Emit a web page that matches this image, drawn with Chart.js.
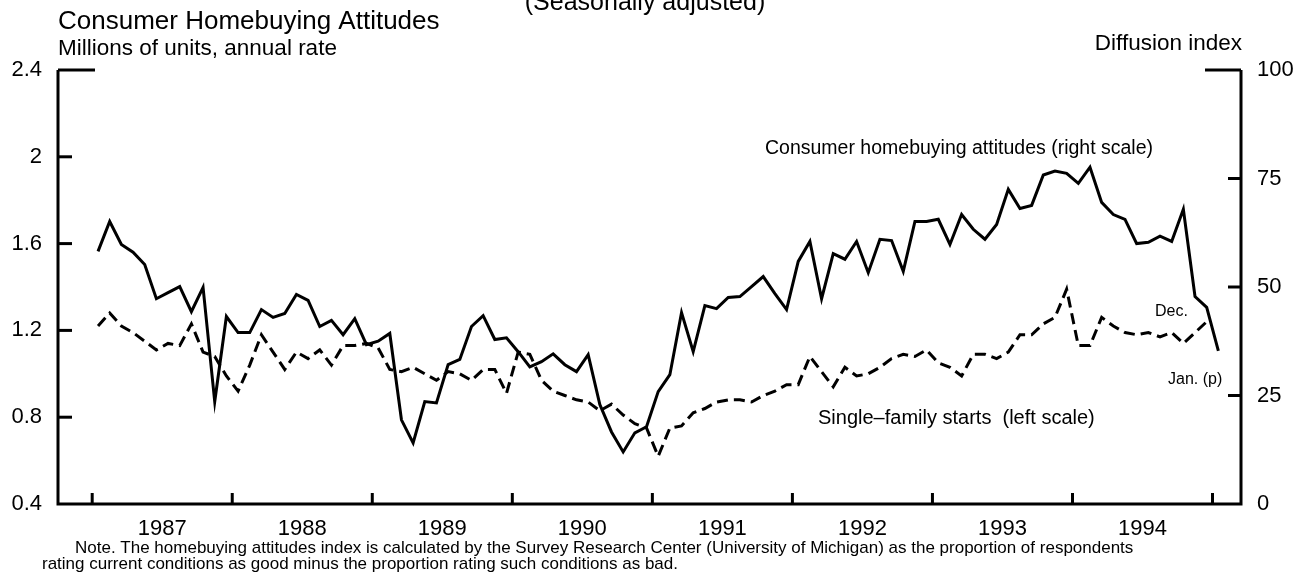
<!DOCTYPE html>
<html>
<head>
<meta charset="utf-8">
<script src="https://cdn.jsdelivr.net/npm/chart.js@4.4.1/dist/chart.umd.min.js"></script>
<style>
  html, body { margin: 0; padding: 0; background: #fff; }
  #wrap { position: relative; width: 1311px; height: 579px; overflow: hidden; }
</style>
</head>
<body>
<div id="wrap"><canvas id="chart" width="1311" height="579"></canvas></div>
<script>
// monthly, Jan 1987 onward
const years = ['1987', '1988', '1989', '1990', '1991', '1992', '1993', '1994'];
const leftTicks = [0.4, 0.8, 1.2, 1.6, 2, 2.4];
const rightTicks = [0, 25, 50, 75, 100];

// Consumer homebuying attitudes, diffusion index (right scale), Jan 1987 - Jan 1995
const attitudes = [
  58.2, 65.1, 59.8, 58.0, 55.2, 47.3, 48.7, 50.1, 44.3, 49.9, 23.6, 43.2,
  39.5, 39.5, 44.8, 43.0, 43.9, 48.3, 46.9, 40.9, 42.3, 39.0, 42.7, 36.7,
  37.5, 39.3, 19.4, 14.1, 23.6, 23.3, 32.1, 33.3, 40.9, 43.4, 37.9, 38.3,
  35.1, 31.6, 32.8, 34.6, 32.1, 30.5, 34.4, 22.9, 16.6, 12.0, 16.4, 17.8,
  25.9, 29.8, 44.1, 35.1, 45.7, 45.0, 47.6, 47.8, 50.1, 52.4, 48.5, 44.8,
  55.9, 60.5, 47.3, 57.7, 56.4, 60.5, 53.3, 61.0, 60.7, 53.6, 65.1, 65.1,
  65.6, 59.8, 66.7, 63.3, 61.0, 64.4, 72.5, 68.1, 68.8, 75.8, 76.7, 76.2,
  73.9, 77.6, 69.5, 66.7, 65.6, 60.0, 60.3, 61.7, 60.5, 67.9, 47.8, 45.3,
  35.3
];

// Single-family starts, millions of units (left scale), Jan 1987 - Dec 1994
const starts = [
  1.22, 1.28, 1.22, 1.19, 1.15, 1.11, 1.14, 1.13, 1.23, 1.10, 1.08, 0.99,
  0.92, 1.04, 1.18, 1.10, 1.02, 1.10, 1.07, 1.11, 1.04, 1.13, 1.13, 1.14,
  1.12, 1.02, 1.01, 1.03, 1.00, 0.97, 1.01, 1.00, 0.97, 1.02, 1.02, 0.91,
  1.10, 1.09, 0.97, 0.92, 0.90, 0.88, 0.87, 0.83, 0.86, 0.81, 0.77, 0.75,
  0.62, 0.75, 0.76, 0.82, 0.84, 0.87, 0.88, 0.88, 0.87, 0.90, 0.92, 0.95,
  0.95, 1.08, 1.01, 0.94, 1.03, 0.99, 1.00, 1.03, 1.07, 1.09, 1.08, 1.11,
  1.05, 1.03, 0.99, 1.09, 1.09, 1.07, 1.10, 1.18, 1.18, 1.23, 1.26, 1.39,
  1.13, 1.13, 1.26, 1.22, 1.19, 1.18, 1.19, 1.17, 1.19, 1.14, 1.19, 1.24
];

const FONT = "'Liberation Sans', Arial, Helvetica, sans-serif";

function text(ctx, str, x, y, size, align = 'left', base = 'alphabetic') {
  ctx.font = size + 'px ' + FONT;
  ctx.textAlign = align;
  ctx.textBaseline = base;
  ctx.fillText(str, x, y);
}

// axes, ticks and all the labels are drawn here from the chart's own scales
const framePlugin = {
  id: 'frame',
  afterDatasetsDraw(chart) {
    const { ctx, chartArea: a, scales } = chart;
    const xs = scales.x, yL = scales.yL, yR = scales.yR;
    ctx.save();
    ctx.strokeStyle = '#000';
    ctx.fillStyle = '#000';
    ctx.lineWidth = 3;
    ctx.lineCap = 'butt';

    ctx.beginPath();
    ctx.moveTo(a.left, a.top);
    ctx.lineTo(a.left, a.bottom);
    ctx.lineTo(a.right, a.bottom);
    ctx.lineTo(a.right, a.top);
    ctx.stroke();

    leftTicks.forEach(v => {
      const y = yL.getPixelForValue(v);
      if (v > 0.4) {
        ctx.beginPath();
        ctx.moveTo(a.left, y);
        ctx.lineTo(a.left + (v === 2.4 ? 37 : 14), y);
        ctx.stroke();
      }
      text(ctx, String(v), 42, y, 22, 'right', 'middle');
    });

    rightTicks.forEach(v => {
      const y = yR.getPixelForValue(v);
      if (v > 0) {
        ctx.beginPath();
        ctx.moveTo(a.right - (v === 100 ? 36 : 13), y);
        ctx.lineTo(a.right, y);
        ctx.stroke();
      }
      text(ctx, String(v), 1257, y, 22, 'left', 'middle');
    });

    for (let k = 0; k <= years.length; k++) {
      const x = xs.getPixelForValue(12 * k - 0.5);
      ctx.beginPath();
      ctx.moveTo(x, a.bottom);
      ctx.lineTo(x, a.bottom - 11);
      ctx.stroke();
    }
    years.forEach((yr, k) => {
      text(ctx, yr, xs.getPixelForValue(12 * k + 5.5), 535, 22, 'center');
    });

    text(ctx, '(Seasonally adjusted)', 645, 10, 25, 'center');
    text(ctx, 'Consumer Homebuying Attitudes', 58, 29, 26);
    text(ctx, 'Millions of units, annual rate', 58, 55, 22.5);
    text(ctx, 'Diffusion index', 1242, 50, 22.5, 'right');

    text(ctx, 'Consumer homebuying attitudes (right scale)', 765, 154, 19.5);
    text(ctx, 'Single\u2013family starts  (left scale)', 818, 424, 20);
    text(ctx, 'Dec.', 1155, 316, 16);
    text(ctx, 'Jan. (p)', 1168, 384, 16);

    text(ctx, 'Note. The homebuying attitudes index is calculated by the Survey Research Center (University of Michigan) as the proportion of respondents', 75, 553, 17);
    text(ctx, 'rating current conditions as good minus the proportion rating such conditions as bad.', 42, 569, 17);
    ctx.restore();
  }
};

new Chart(document.getElementById('chart'), {
  type: 'line',
  data: {
    datasets: [
      {
        label: 'Consumer homebuying attitudes',
        data: attitudes.map((v, i) => ({ x: i, y: v })),
        yAxisID: 'yR',
        borderColor: '#000',
        borderWidth: 3,
        pointRadius: 0,
        tension: 0,
        fill: false
      },
      {
        label: 'Single-family starts',
        data: starts.map((v, i) => ({ x: i, y: v })),
        yAxisID: 'yL',
        borderColor: '#000',
        borderWidth: 3,
        borderDash: [11, 6],
        pointRadius: 0,
        tension: 0,
        fill: false
      }
    ]
  },
  options: {
    responsive: false,
    animation: false,
    devicePixelRatio: 1,
    layout: { padding: { left: 58, right: 70, top: 70, bottom: 75 } },
    plugins: {
      legend: { display: false },
      tooltip: { enabled: false }
    },
    scales: {
      x: { type: 'linear', min: -3.43, max: 97.94, display: false },
      yL: { type: 'linear', position: 'left', min: 0.4, max: 2.4, display: false },
      yR: { type: 'linear', position: 'right', min: 0, max: 100, display: false }
    }
  },
  plugins: [framePlugin]
});
</script>
</body>
</html>
